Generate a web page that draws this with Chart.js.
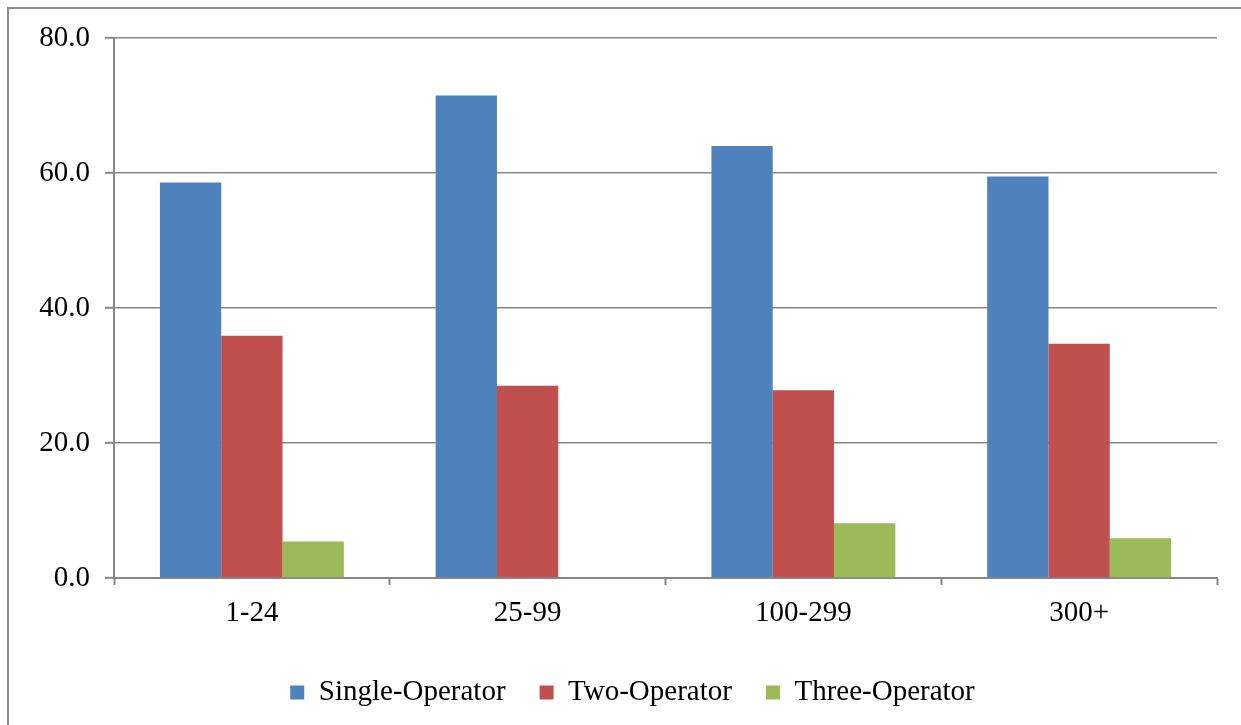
<!DOCTYPE html>
<html>
<head>
<meta charset="utf-8">
<script src="https://cdn.jsdelivr.net/npm/chart.js@4.4.1/dist/chart.umd.min.js"></script>
<style>
  html, body { margin: 0; padding: 0; background: #fff; }
  #wrap { position: relative; width: 1241px; height: 725px; overflow: hidden; }
  #frame {
    position: absolute; left: 7px; top: 7px; width: 1400px; height: 900px;
    border-left: 2px solid #8c8c8c; border-top: 2px solid #8c8c8c;
    pointer-events: none;
  }
  canvas { position: absolute; left: 0; top: 0; }
</style>
</head>
<body>
<div id="wrap">
  <div id="frame"></div>
  <canvas id="chart" width="1241" height="725"></canvas>
</div>
<script>
// ===== DATA =====
const categories = ['1-24', '25-99', '100-299', '300+'];
const seriesNames = ['Single-Operator', 'Two-Operator', 'Three-Operator'];
const singleOperator = [58.6, 71.5, 64.0, 59.5];
const twoOperator = [35.9, 28.5, 27.8, 34.7];
const threeOperator = [5.4, 0, 8.1, 5.9];
const yTicks = [0, 20, 40, 60, 80];

// ===== COLORS =====
const COLORS = {
  blue: '#4F81BD',
  red: '#C0504D',
  green: '#9BBB59',
  grid: '#878787',
  text: '#000000',
};

const FONT = { family: '"Liberation Serif", "Times New Roman", serif', size: 29 };

function barSet(label, data, color) {
  return {
    label,
    data,
    backgroundColor: color,
    borderWidth: 0,
    categoryPercentage: 0.667,
    barPercentage: 1.0,
  };
}

// legend in the original sits a bit right of the canvas centre
const legendShift = {
  id: 'legendShift',
  beforeDraw(chart) {
    const lg = chart.legend;
    if (!lg || lg._shifted) return;
    lg.left += 48;
    lg._shifted = true;
  },
};

const ctx = document.getElementById('chart');

new Chart(ctx, {
  type: 'bar',
  data: {
    labels: categories,
    datasets: [
      barSet(seriesNames[0], singleOperator, COLORS.blue),
      barSet(seriesNames[1], twoOperator, COLORS.red),
      barSet(seriesNames[2], threeOperator, COLORS.green),
    ],
  },
  options: {
    responsive: false,
    animation: false,
    layout: { padding: { left: 0, right: 24, top: 38, bottom: 8 } },
    scales: {
      x: {
        grid: {
          drawOnChartArea: false,
          drawTicks: true,
          tickLength: 7,
          tickColor: COLORS.grid,
          tickWidth: 2,
          offset: true,
        },
        border: { color: COLORS.grid, width: 2 },
        ticks: { color: COLORS.text, font: FONT, padding: 11 },
        afterFit: (scale) => { scale.height = 66; },
      },
      y: {
        min: yTicks[0],
        max: yTicks[yTicks.length - 1],
        afterBuildTicks: (scale) => { scale.ticks = yTicks.map((v) => ({ value: v })); },
        grid: {
          color: COLORS.grid,
          lineWidth: 1.6,
          tickLength: 9,
          tickColor: COLORS.grid,
          tickWidth: 2,
        },
        border: { color: COLORS.grid, width: 2 },
        ticks: {
          color: COLORS.text,
          font: FONT,
          padding: 15,
          callback: (v) => Number(v).toFixed(1),
        },
        afterFit: (scale) => { scale.width = 114; },
      },
    },
    plugins: {
      legend: {
        position: 'bottom',
        labels: {
          color: COLORS.text,
          font: FONT,
          boxWidth: 14,
          boxHeight: 14,
          padding: 34,
        },
      },
      tooltip: { enabled: false },
    },
  },
  plugins: [legendShift],
});
</script>
</body>
</html>
